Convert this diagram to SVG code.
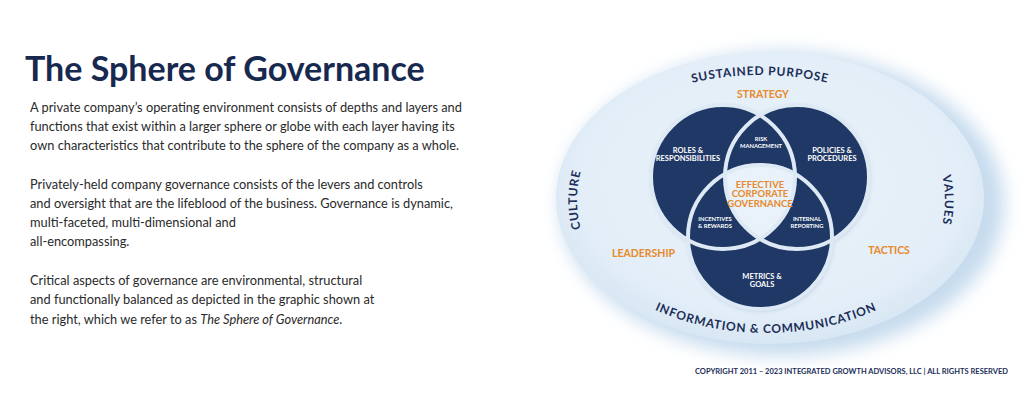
<svg xmlns="http://www.w3.org/2000/svg" width="1024" height="400" viewBox="0 0 1024 400">
<defs>
<style>
.body{font-family:Lato,"Liberation Sans",sans-serif;font-size:12.8px;fill:#2a2a2a}
.title{font-family:Lato,"Liberation Sans",sans-serif;font-weight:700;font-size:34px;fill:#17294f}
.arc{font-family:Lato,"Liberation Sans",sans-serif;font-weight:700;font-size:12px;fill:#1c2d57;letter-spacing:0.8px}
.org{font-family:Lato,"Liberation Sans",sans-serif;font-weight:700;fill:#e8892b;text-anchor:middle}
.wht{font-family:Lato,"Liberation Sans",sans-serif;font-weight:700;fill:#ffffff;text-anchor:middle}
.petal{fill:#1f3865}
.gap{fill:none;stroke:#dde9f4;stroke-width:4}
</style>
<filter id="blur" x="-20%" y="-20%" width="140%" height="140%"><feGaussianBlur stdDeviation="9"/></filter>
<filter id="sh" x="-20%" y="-20%" width="140%" height="140%"><feGaussianBlur stdDeviation="2.5"/></filter>
<radialGradient id="bg" cx="50%" cy="45%" r="55%">
<stop offset="0%" stop-color="#ebf3fa"/>
<stop offset="80%" stop-color="#e3eef8"/>
<stop offset="100%" stop-color="#d8e7f4"/>
</radialGradient>
<path id="pTop" d="M560,205 A200,130 0 0 1 960,205"/>
<path id="pBot" d="M561,188 A205,145 0 0 0 971,188"/>
<path id="pLeft" d="M761,340 A184,140 0 0 1 761,60"/>
<path id="pRight" d="M761,60 A184,140 0 0 1 761,340"/>
</defs>
<rect width="1024" height="400" fill="#ffffff"/>

<g id="intro">
<text class="title" x="25" y="81">The Sphere of Governance</text>
<text class="body" x="30" y="111.5">A private company’s operating environment consists of depths and layers and</text>
<text class="body" x="30" y="130.8">functions that exist within a larger sphere or globe with each layer having its</text>
<text class="body" x="30" y="150">own characteristics that contribute to the sphere of the company as a whole.</text>
<text class="body" x="30" y="188.5">Privately-held company governance consists of the levers and controls</text>
<text class="body" x="30" y="207.8">and oversight that are the lifeblood of the business. Governance is dynamic,</text>
<text class="body" x="30" y="227">multi-faceted, multi-dimensional and</text>
<text class="body" x="30" y="246.3">all-encompassing.</text>
<text class="body" x="30" y="285">Critical aspects of governance are environmental, structural</text>
<text class="body" x="30" y="304.3">and functionally balanced as depicted in the graphic shown at</text>
<text class="body" x="30" y="323.5">the right, which we refer to as <tspan font-style="italic">The Sphere of Governance</tspan>.</text>
</g>

<g id="sphere">
<ellipse cx="782" cy="204" rx="222" ry="152" fill="#c6dbee" filter="url(#blur)"/>
<ellipse cx="770" cy="198" rx="214" ry="146" fill="url(#bg)"/>
</g>

<g id="outer-labels">
<text class="arc"><textPath href="#pTop" startOffset="50%" text-anchor="middle">SUSTAINED PURPOSE</textPath></text>
<text class="arc"><textPath href="#pBot" startOffset="50%" text-anchor="middle">INFORMATION &amp; COMMUNICATION</textPath></text>
<text class="arc"><textPath href="#pLeft" startOffset="50%" text-anchor="middle">CULTURE</textPath></text>
<text class="arc"><textPath href="#pRight" startOffset="50%" text-anchor="middle">VALUES</textPath></text>
<text class="org" x="763" y="98" font-size="10.5">STRATEGY</text>
<text class="org" x="643.5" y="257" font-size="10.5">LEADERSHIP</text>
<text class="org" x="889" y="254" font-size="10.5">TACTICS</text>
</g>

<g id="venn">
<g fill="#9fb6cf" opacity="0.6" filter="url(#sh)">
<circle cx="724" cy="179" r="72"/>
<circle cx="798" cy="179" r="72"/>
<circle cx="761" cy="239" r="72"/>
</g>
<circle class="petal" cx="723" cy="177" r="72"/>
<circle class="petal" cx="797" cy="177" r="72"/>
<circle class="petal" cx="760" cy="237" r="72"/>
<path id="center" d="M725.1,174 A72,72 0 0 1 794.9,174 A72,72 0 0 1 760,238.8 A72,72 0 0 1 725.1,174 Z" fill="#e9f2fa"/>
<circle class="gap" cx="723" cy="177" r="72"/>
<circle class="gap" cx="797" cy="177" r="72"/>
<circle class="gap" cx="760" cy="237" r="72"/>
</g>

<g id="node-roles"><text class="wht" font-size="7.5"><tspan x="688" y="153">ROLES &amp;</tspan><tspan x="688" y="161">RESPONSIBILITIES</tspan></text></g>
<g id="node-policies"><text class="wht" font-size="7.5"><tspan x="832" y="153">POLICIES &amp;</tspan><tspan x="832" y="161">PROCEDURES</tspan></text></g>
<g id="node-risk"><text class="wht" font-size="5.8"><tspan x="761" y="141">RISK</tspan><tspan x="761" y="147.5">MANAGEMENT</tspan></text></g>
<g id="node-incentives"><text class="wht" font-size="5.8"><tspan x="715" y="221">INCENTIVES</tspan><tspan x="715" y="228">&amp; REWARDS</tspan></text></g>
<g id="node-internal"><text class="wht" font-size="5.8"><tspan x="807" y="221">INTERNAL</tspan><tspan x="807" y="228">REPORTING</tspan></text></g>
<g id="node-metrics"><text class="wht" font-size="7.5"><tspan x="762" y="279">METRICS &amp;</tspan><tspan x="762" y="287">GOALS</tspan></text></g>
<g id="node-center"><text class="org" font-size="9.5"><tspan x="760" y="187.5">EFFECTIVE</tspan><tspan x="760" y="197">CORPORATE</tspan><tspan x="760" y="206.5">GOVERNANCE</tspan></text></g>

<text x="695" y="374" font-family="Lato,'Liberation Sans',sans-serif" font-weight="700" font-size="7.5" fill="#1c2d57" textLength="313" lengthAdjust="spacingAndGlyphs">COPYRIGHT 2011 – 2023 INTEGRATED GROWTH ADVISORS, LLC | ALL RIGHTS RESERVED</text>
</svg>
